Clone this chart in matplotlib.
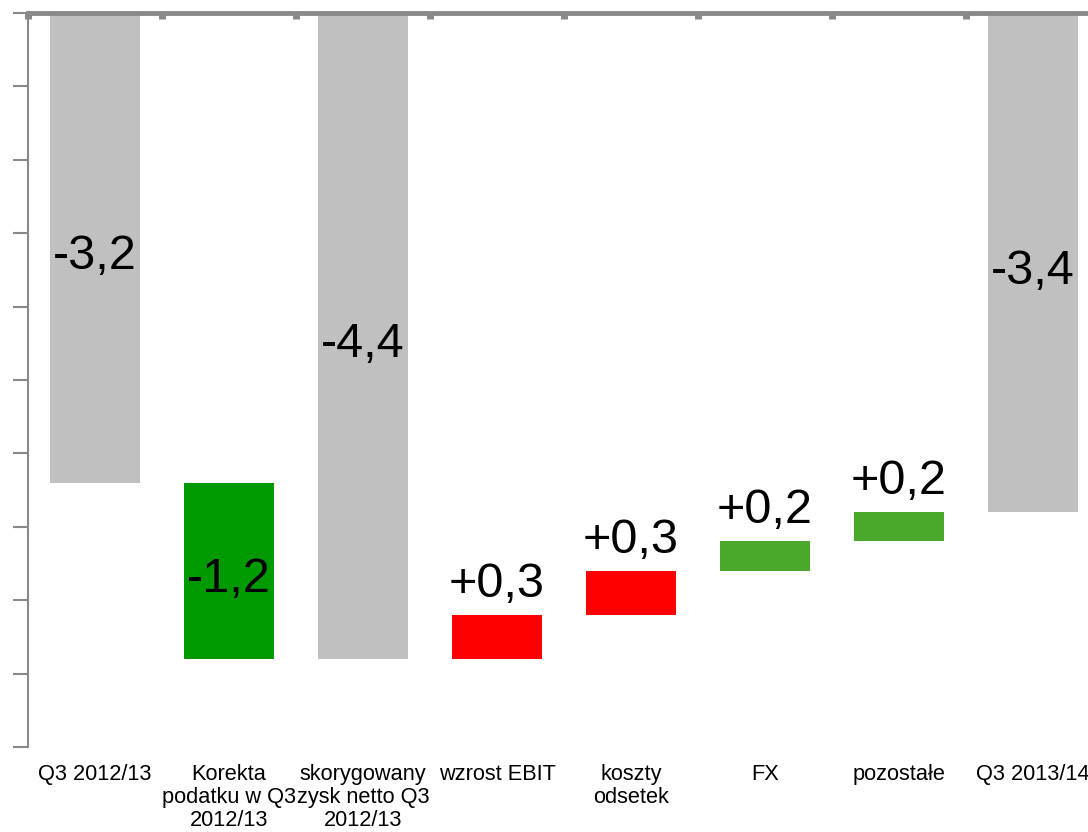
import numpy as np
import matplotlib
matplotlib.use("Agg")
import matplotlib.pyplot as plt
from matplotlib.transforms import ScaledTranslation

plt.rcParams['font.family'] = ['Liberation Sans', 'DejaVu Sans']

# waterfall data (mln), negative numbers hang down from zero
categories = ["Q3 2012/13", "Korekta\npodatku w Q3\n2012/13", "skorygowany\nzysk netto Q3\n2012/13",
              "wzrost EBIT", "koszty\nodsetek", "FX", "pozostałe", "Q3 2013/14"]
bar_top = [0.0, -3.2, 0.0, -4.1, -3.8, -3.6, -3.4, 0.0]
bar_bottom = [-3.2, -4.4, -4.4, -4.4, -4.1, -3.8, -3.6, -3.4]
labels = ["-3,2", "-1,2", "-4,4", "+0,3", "+0,3", "+0,2", "+0,2", "-3,4"]
colors = ["#c0c0c0", "#009900", "#c0c0c0", "#ff0000", "#ff0000", "#4aa82a", "#4aa82a", "#c0c0c0"]
inside = [True, True, True, False, False, False, False, True]

fig = plt.figure(figsize=(10.88, 8.32), dpi=100)
ax = fig.add_axes([28/1088, 85/832, 1072/1088, 734/832])

x = np.arange(len(categories))
heights = np.array(bar_top) - np.array(bar_bottom)
ax.bar(x, heights, bottom=bar_bottom, width=0.67, color=colors, zorder=2)

for i in range(len(x)):
    if inside[i]:
        ax.text(x[i], (bar_top[i] + bar_bottom[i]) / 2 - 0.06, labels[i], ha="center", va="center",
                fontsize=35, color="black", zorder=3)
    else:
        ax.annotate(labels[i], (x[i], bar_top[i]), xytext=(0, 6), textcoords="offset points",
                    ha="center", va="bottom", fontsize=35, color="black", zorder=3)

ax.set_xlim(-0.5, 7.5)
ax.set_ylim(-5, 0)
ax.set_yticks(np.arange(-5, 0.01, 0.5))
ax.set_yticklabels([])
ax.set_xticks(x)
ax.set_xticklabels(categories, fontsize=15.7, linespacing=1.12, va="top")
ax.set_xticks(np.arange(-0.5, 7.6, 1), minor=True)

# last label sits right at the figure edge, pull it in a little
last = ax.get_xticklabels()[-1]
last.set_transform(last.get_transform() + ScaledTranslation(-4/72, 0, fig.dpi_scale_trans))

ax.tick_params(axis="x", which="major", length=0, pad=12)
ax.tick_params(axis="x", which="minor", top=True, bottom=False, direction="in",
               length=4, width=5, color="#898989")
ax.tick_params(axis="y", which="major", direction="out", length=11, width=1.5, color="#898989")

for s in ["bottom", "right"]:
    ax.spines[s].set_visible(False)
ax.spines["left"].set_color("#898989")
ax.spines["left"].set_linewidth(1.5)
ax.spines["top"].set_color("#898989")
ax.spines["top"].set_linewidth(3.5)
ax.spines["top"].set_zorder(4)

fig.savefig("out.png", dpi=100)
